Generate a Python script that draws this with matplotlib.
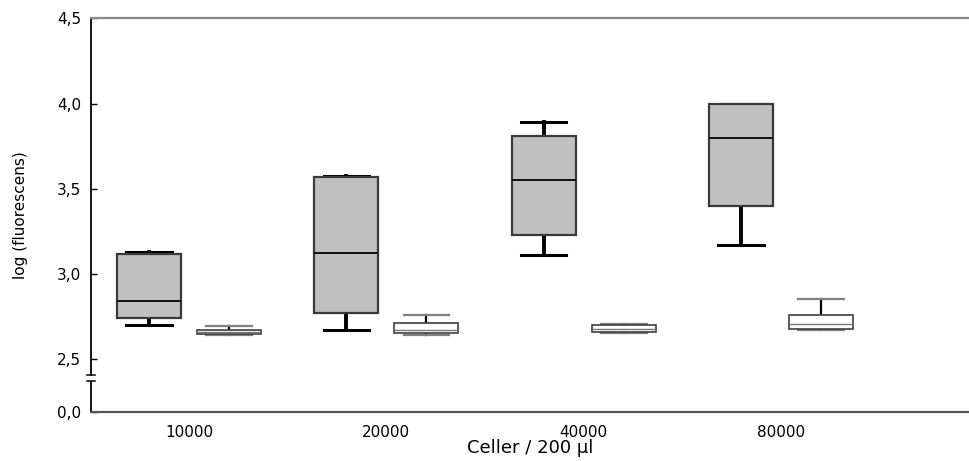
import matplotlib
matplotlib.use('Agg')
import matplotlib.pyplot as plt

plt.rcParams['font.family'] = ['DejaVu Sans']

categories = ['10000', '20000', '40000', '80000']

# dark (filled) boxes
dark_whislo = [2.70, 2.67, 3.11, 3.17]
dark_q1 = [2.74, 2.77, 3.23, 3.40]
dark_med = [2.84, 3.125, 3.55, 3.80]
dark_q3 = [3.12, 3.57, 3.81, 4.00]
dark_whishi = [3.13, 3.575, 3.89, 4.00]

# white boxes
white_whislo = [2.64, 2.64, 2.655, 2.674]
white_q1 = [2.645, 2.651, 2.66, 2.678]
white_med = [2.66, 2.671, 2.676, 2.706]
white_q3 = [2.674, 2.712, 2.70, 2.761]
white_whishi = [2.696, 2.762, 2.704, 2.855]

ytick_values = [0.0, 2.5, 3.0, 3.5, 4.0, 4.5]
ytick_labels = ['0,0', '2,5', '3,0', '3,5', '4,0', '4,5']

y_break_pos = 2.19  # where 0,0 sits on the broken axis

W, H = 969, 461
fig = plt.figure(figsize=(W / 100, H / 100), dpi=100)
ax = fig.add_axes([91 / W, 1 - 412 / H, 878 / W, (412 - 18.5) / H])

def stats(lo, q1, med, q3, hi):
    return [dict(whislo=a, q1=b, med=c, q3=d, whishi=e, fliers=[])
            for a, b, c, d, e in zip(lo, q1, med, q3, hi)]

n = len(categories)
off = 0.203
ax.bxp(stats(dark_whislo, dark_q1, dark_med, dark_q3, dark_whishi),
       positions=[i - off for i in range(n)], widths=0.324, capwidths=0.231,
       patch_artist=True, showfliers=False, manage_ticks=False,
       boxprops=dict(facecolor='#c0c0c0', edgecolor='#3a3a3a', linewidth=1.6, zorder=3),
       medianprops=dict(color='#111111', linewidth=1.4, zorder=4),
       whiskerprops=dict(color='black', linewidth=2.8, zorder=2),
       capprops=dict(color='black', linewidth=2.2))
ax.bxp(stats(white_whislo, white_q1, white_med, white_q3, white_whishi),
       positions=[i + off for i in range(n)], widths=0.324, capwidths=0.231,
       patch_artist=True, showfliers=False, manage_ticks=False,
       boxprops=dict(facecolor='white', edgecolor='#404040', linewidth=1.2, zorder=3),
       medianprops=dict(color='#777777', linewidth=1.0, zorder=4),
       whiskerprops=dict(color='black', linewidth=1.6, zorder=2),
       capprops=dict(color='#808080', linewidth=1.6, zorder=2))

ax.set_xlim(-0.497, 3.953)
ax.set_ylim(y_break_pos, 4.5)

ax.set_xticks(range(n), categories)
ax.tick_params(axis='x', length=0, pad=9, labelsize=11)
yt = [y_break_pos if v == 0.0 else v for v in ytick_values]
ax.set_yticks(yt, ytick_labels)
ax.tick_params(axis='y', direction='in', length=4, width=1, pad=7, labelsize=11)

ax.spines['right'].set_visible(False)
ax.spines['top'].set_color('#8a8a8a')
ax.spines['top'].set_linewidth(1.6)
ax.spines['bottom'].set_color('#555555')
ax.spines['bottom'].set_linewidth(1.6)
ax.spines['left'].set_color('black')
ax.spines['left'].set_linewidth(1.3)
b_hi, b_lo = 2.408, 2.372
ax.spines['left'].set_bounds(b_hi, 4.5)
tr = ax.get_yaxis_transform()
ax.plot([0, 0], [y_break_pos, b_lo], transform=tr, color='black', lw=1.3,
        clip_on=False, solid_capstyle='butt')
for yb in (b_hi, b_lo):
    ax.plot([-0.005, 0.005], [yb, yb], transform=tr, color='black', lw=1.1,
            clip_on=False)

ax.set_xlabel('Celler / 200 µl', fontsize=13)
ax.xaxis.set_label_coords(0.5, -0.068)
ax.set_ylabel('log (fluorescens)', fontsize=11)
ax.yaxis.set_label_coords(-0.072, 0.5)

fig.savefig('out.png', dpi=100)
